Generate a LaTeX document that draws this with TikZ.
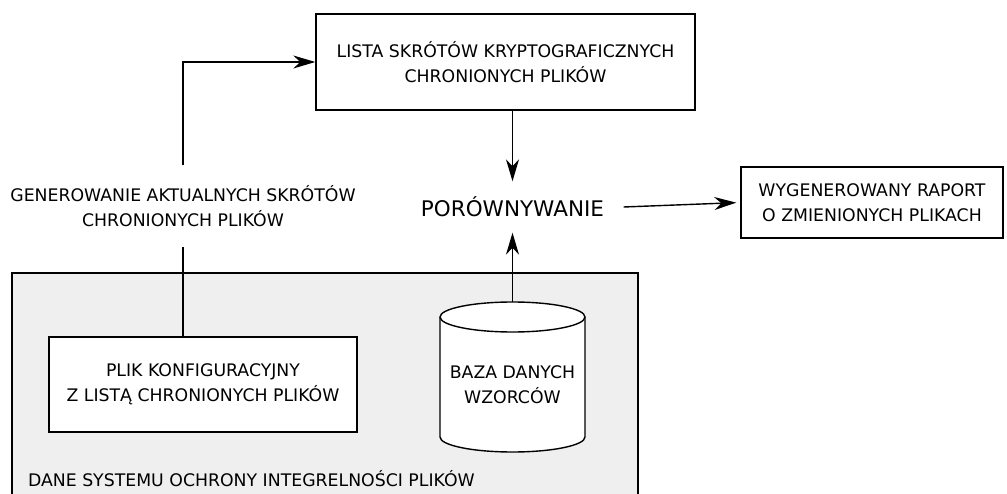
\documentclass[tikz,border=0pt]{standalone}
\usepackage{fontspec}
\setmainfont{DejaVu Sans}
\usetikzlibrary{arrows.meta}
\definecolor{panel}{HTML}{EFEFEF}
\begin{document}
\begin{tikzpicture}[x=1pt,y=1pt,
  line width=1.4pt,
  txt/.style={font=\fontsize{17.3}{25}\selectfont, align=center},
  box/.style={draw, txt, inner sep=0pt},
  arr/.style={-{Stealth[length=22pt,width=13pt,inset=7pt]}}]
\useasboundingbox (0,0) rectangle (1007,493);

% storage area of the integrity system
\fill[panel] (12,-5) rectangle (638,220);
\draw (12,-5) -- (12,220) -- (638,220) -- (638,-5);
\node[txt, anchor=west] (panel) at (24,14) {DANE SYSTEMU OCHRONY INTEGRELNOŚCI PLIKÓW};

% boxes
\node[box, minimum width=379pt, minimum height=96pt] (hashes) at (505.5,431)
  {LISTA SKRÓTÓW KRYPTOGRAFICZNYCH\\CHRONIONYCH PLIKÓW};
\node[box, minimum width=262pt, minimum height=71pt] (report) at (872,290.5)
  {WYGENEROWANY RAPORT\\O ZMIENIONYCH PLIKACH};
\node[box, minimum width=308pt, minimum height=95pt, fill=white] (config) at (203,108.5)
  {PLIK KONFIGURACYJNY\\Z LISTĄ CHRONIONYCH PLIKÓW};

% comparison step
\node[font=\fontsize{21.5}{24}\selectfont, minimum width=221pt, minimum height=50pt, inner sep=0pt] (cmp) at (512.5,286) {PORÓWNYWANIE};

% pattern database cylinder
\draw[fill=white] (440,176) -- (440,56) arc[start angle=180,end angle=360,x radius=72.5pt,y radius=15pt]
  -- (585,176) arc[start angle=0,end angle=180,x radius=72.5pt,y radius=15pt] -- cycle;
\draw (440,176) arc[start angle=180,end angle=360,x radius=72.5pt,y radius=15pt];
\coordinate (dbtop) at (512.5,191);
\node[txt] (db) at (512.5,108) {BAZA DANYCH\\WZORCÓW};

% label on the generation path
\node[txt, inner sep=0pt, minimum height=80pt] (gen) at (183,287) {GENEROWANIE AKTUALNYCH SKRÓTÓW\\CHRONIONYCH PLIKÓW};

% connectors
\draw (config.north -| gen.south) -- (gen.south);
\draw[arr] (gen.north) |- (hashes.west);
\draw[arr] (hashes.south -| cmp.north) -- (cmp.north);
\draw[arr] (dbtop) -- (cmp.south);
\draw[arr, shorten >=4pt] (cmp.east) -- (report.west);
\end{tikzpicture}
\end{document}
